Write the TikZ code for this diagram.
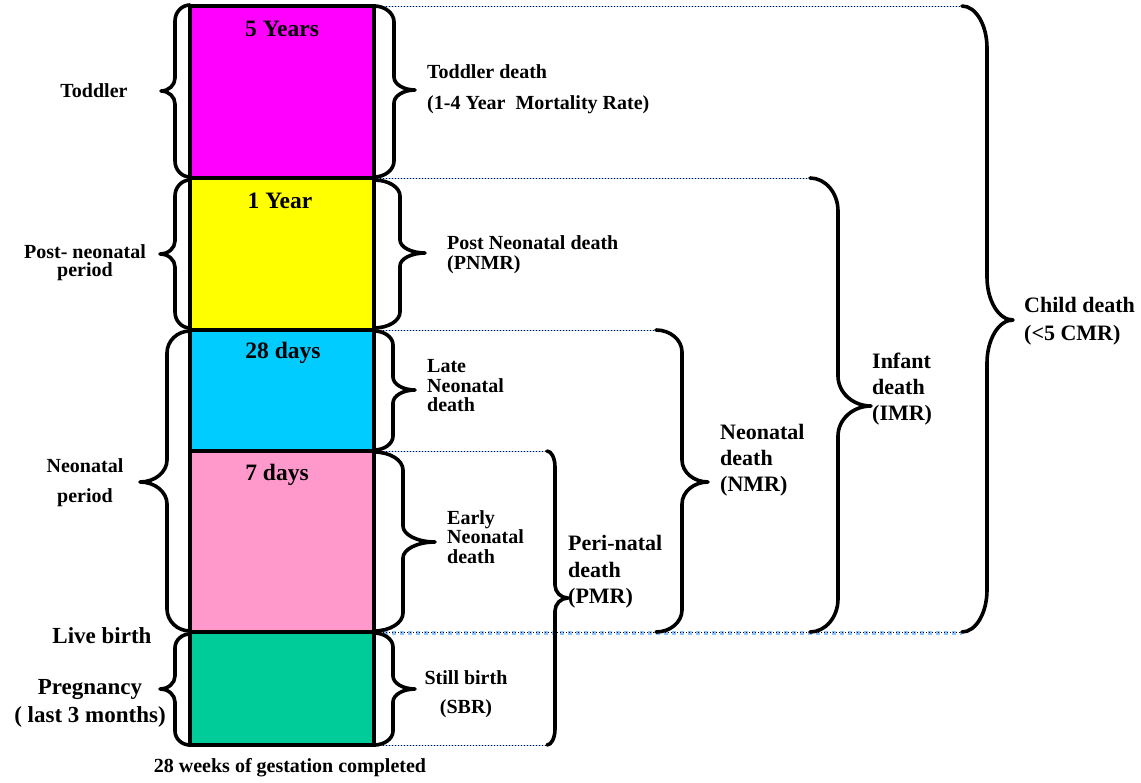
\documentclass[tikz,border=0pt]{standalone}
\usepackage{fontspec}
\setmainfont{Liberation Serif}

\definecolor{todcol}{HTML}{FF00FF}
\definecolor{postcol}{HTML}{FFFF00}
\definecolor{latecol}{HTML}{00CCFF}
\definecolor{earlycol}{HTML}{FF99CC}
\definecolor{stillcol}{HTML}{00CC99}
\definecolor{guideblue}{HTML}{99CCFF}
\definecolor{birthblue}{HTML}{8CC4FF}

\tikzset{
  brc/.style={line width=3.6pt, line cap=round, line join=round},
  bar/.style={line width=4pt},
  guide/.style={line width=0.9pt, dash pattern=on 1pt off 2pt},
  guideunder/.style={draw=guideblue, line width=0.6pt},
  birthunder/.style={draw=birthblue, line width=4pt, dash pattern=on 4pt off 4pt},
  fs/.style 2 args={font=\bfseries\fontsize{#1}{#2}\selectfont, inner sep=0pt}
}

\newcommand{\drawcurly}[8]{%
  \draw[brc] (#1,#4) .. controls ({#1+0.55*(#2-#1)},#4) and (#2,{#4+0.45*#7}) .. (#2,#4+#7)
    -- (#2,#5-#8) .. controls (#2,{#5-0.45*#8}) and ({#2+0.45*(#3-#2)},#5) .. (#3,#5)
    .. controls ({#2+0.45*(#3-#2)},#5) and (#2,{#5+0.45*#8}) .. (#2,#5+#8)
    -- (#2,#6-#7) .. controls (#2,{#6-0.45*#7}) and ({#1+0.55*(#2-#1)},#6) .. (#1,#6);}

\begin{document}
\begin{tikzpicture}[x=1pt, y=-1pt]
  \useasboundingbox (0,0) rectangle (1141,783);

  \draw[guideunder] (374,6.5) -- (962,6.5);
  \draw[guideunder] (374,178.5) -- (810,178.5);
  \draw[guideunder] (374,330.5) -- (656,330.5);
  \draw[guideunder] (374,451.5) -- (547,451.5);
  \draw[birthunder] (376,632.5) -- (962,632.5);
  \draw[guideunder] (374,745.5) -- (547,745.5);

  \draw[guide] (374,6) -- (962,6);
  \draw[guide] (374,178) -- (810,178);
  \draw[guide] (374,330) -- (656,330);
  \draw[guide] (374,451) -- (547,451);
  \draw[guide] (374,632) -- (962,632);
  \draw[guide] (374,745) -- (547,745);

  \filldraw[bar, fill=todcol] (190,6) rectangle (374,178);
  \filldraw[bar, fill=postcol] (190,178) rectangle (374,330);
  \filldraw[bar, fill=latecol] (190,330) rectangle (374,451);
  \filldraw[bar, fill=earlycol] (190,451) rectangle (374,632);
  \filldraw[bar, fill=stillcol] (190,632) rectangle (374,745);

  \node[fs={23.5}{23.5}] (yr5) at (282,29) {5 Years};
  \node[fs={23.5}{23.5}] (yr1) at (280,201) {1 Year};
  \node[fs={23.5}{23.5}] (d28) at (283,353) {28 days};
  \node[fs={23.5}{23.5}] (d7) at (277,475) {7 days};

  \drawcurly{190}{175}{161}{5}{91}{177}{16}{13}
  \drawcurly{190}{175}{160}{180}{254}{328}{16}{13}
  \drawcurly{190}{167}{140}{331}{482}{631}{22}{22}
  \drawcurly{190}{175}{160}{634}{689}{745}{14}{13}

  \drawcurly{374}{394}{415}{6}{90}{177}{16}{13}
  \drawcurly{374}{400}{425}{180}{253}{328}{16}{13}
  \drawcurly{374}{393}{415}{331}{390}{450}{14}{13}
  \drawcurly{374}{403}{435}{452}{542}{631}{18}{16}
  \drawcurly{374}{393}{415}{633}{689}{745}{14}{13}

  \drawcurly{547}{555}{568}{451}{598}{745}{16}{13}
  \drawcurly{656}{682}{708}{330}{482}{632}{22}{22}
  \drawcurly{810}{838}{871}{178}{406}{632}{33}{30}
  \drawcurly{962}{987}{1013}{6}{320}{632}{42}{43}

  \node[fs={20}{20}] (toddler) at (94,91) {Toddler};
  \node[fs={20}{18}, align=center] (postneo) at (85,263) {Post- neonatal\\period};
  \node[fs={20}{30}, align=center] (neoper) at (85,483) {Neonatal\\period};
  \node[fs={23}{23}] (live) at (102,636) {Live birth};
  \node[fs={23}{28}, align=center] (preg) at (90,703) {Pregnancy\\( last 3 months)};
  \node[fs={20}{20}] (gest) at (290,768) {28 weeks of gestation completed};

  \node[fs={20}{31}, align=left, anchor=west] (toddeath) at (427,89) {Toddler death\\(1-4 Year~~Mortality Rate)};
  \node[fs={20}{20}, align=left, anchor=west] (pnmr) at (447,255) {Post Neonatal death\\(PNMR)};
  \node[fs={20}{19.5}, align=left, anchor=west] (lateneo) at (427,386) {Late\\Neonatal\\death};
  \node[fs={20}{19.5}, align=left, anchor=west] (earlyneo) at (447,537) {Early\\Neonatal\\death};
  \node[fs={20}{29}, align=center] (sbr) at (466,694) {Still birth\\(SBR)};
  \node[fs={22}{26.5}, align=left, anchor=west] (pmr) at (568,572) {Peri-natal\\death\\(PMR)};
  \node[fs={22}{26}, align=left, anchor=west] (nmr) at (720,460) {Neonatal\\death\\(NMR)};
  \node[fs={22}{26}, align=left, anchor=west] (imr) at (872,389) {Infant\\death\\(IMR)};
  \node[fs={22}{28}, align=left, anchor=west] (cmr) at (1024,321) {Child death\\(<5 CMR)};
\end{tikzpicture}
\end{document}
